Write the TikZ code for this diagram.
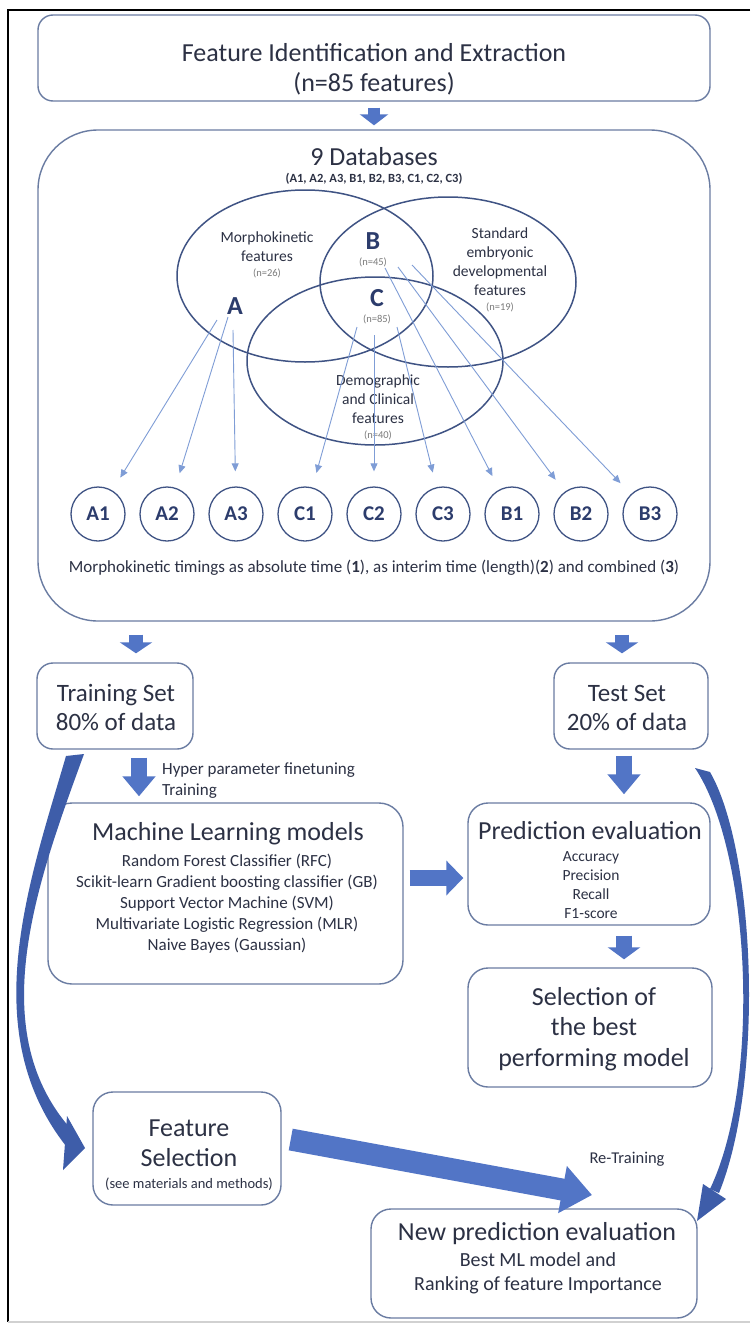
\documentclass[tikz,border=0pt]{standalone}
\usepackage{fontspec}
\setmainfont{Carlito}
\usetikzlibrary{arrows.meta,calc}
\definecolor{boxc}{HTML}{6A7CA2}
\definecolor{venc}{HTML}{3F5384}
\definecolor{arrc}{HTML}{5275C6}
\definecolor{carr}{HTML}{3E5DA9}
\definecolor{thinc}{HTML}{7F9DD6}
\definecolor{txt}{HTML}{2C3144}
\definecolor{gtxt}{HTML}{7A7A7A}
\definecolor{navy}{HTML}{2C3C6C}
\newcommand\fsz[1]{\fontsize{#1}{#1}\selectfont}
\begin{document}
\begin{tikzpicture}[x=1pt,y=-1pt,
  bx/.style={draw=boxc, line width=1.4pt, rounded corners=#1, inner sep=0pt},
  bx/.default=18pt,
  tx/.style={anchor=base, inner sep=0pt, text=txt},
  ng/.style={anchor=base, inner sep=0pt, text=gtxt, font=\fsz{10.5}},
  big/.style={anchor=base, inner sep=0pt, text=navy, font=\bfseries\fsz{26}},
  cir/.style={circle, draw=venc, line width=1.3pt, minimum size=54pt, inner sep=0pt, text=navy, font=\bfseries\fsz{21}},
  ven/.style={draw=venc, line width=1.5pt},
  thn/.style={draw=thinc, line width=0.9pt, -{Triangle[length=8pt,width=7pt]}, shorten >=15pt},
  blk/.style n args={3}{draw=arrc, line width=#1, -{Triangle[length=#3,width=#2]}},
]
\useasboundingbox (0,0) rectangle (750,1330);
\fill[white] (0,0) rectangle (750,1330);
% frame
\draw[black, line width=2pt] (750,10) -- (8,10) -- (8,1322);
\draw[black!18, line width=2pt] (8,1322) -- (750,1322);

% boxes
\node[bx=15pt, minimum width=672pt, minimum height=86pt] (top) at (374,58) {};
\node[bx=60pt, minimum width=672pt, minimum height=491pt] (db) at (374,375.5) {};
\node[bx=16pt, minimum width=156pt, minimum height=86pt] (train) at (115,706) {};
\node[bx=16pt, minimum width=154pt, minimum height=86pt] (test) at (631,706) {};
\node[bx=24pt, minimum width=355pt, minimum height=181pt] (ml) at (225.5,893.5) {};
\node[bx=20pt, minimum width=242pt, minimum height=122pt] (pred) at (589,864) {};
\node[bx=20pt, minimum width=244pt, minimum height=119pt] (sel) at (590,1027.5) {};
\node[bx=20pt, minimum width=188pt, minimum height=113pt] (fs) at (187,1148.5) {};
\node[bx=20pt, minimum width=326pt, minimum height=109pt] (np) at (534,1263.5) {};

% top texts
\node[tx, font=\fsz{26}] (t1) at (374,62) {Feature Identification and Extraction};
\node[tx, font=\fsz{26}] (t2) at (374,91) {(n=85 features)};
\node[tx, font=\fsz{26}] (t3) at (374,165) {9 Databases};
\node[tx, font=\bfseries\fsz{12.5}] (t4) at (374,182) {(A1, A2, A3, B1, B2, B3, C1, C2, C3)};

% venn
\draw[ven] (305,276) ellipse [x radius=128pt, y radius=86pt];
\draw[ven] (448,282) ellipse [x radius=128pt, y radius=85pt];
\draw[ven] (375,361) ellipse [x radius=128pt, y radius=84pt];

\node[tx, font=\fsz{15.5}] (m1) at (267,242) {Morphokinetic};
\node[tx, font=\fsz{15.5}] (m2) at (267,261) {features};
\node[ng] (m3) at (267,276) {(n=26)};
\node[big] (lB) at (373,249) {B};
\node[ng] (nB) at (373,265) {(n=45)};
\node[big] (lC) at (377,306) {C};
\node[ng] (nC) at (377,322) {(n=85)};
\node[big] (lA) at (235,314) {A};
\node[tx, font=\fsz{15.5}] (s1) at (500,238) {Standard};
\node[tx, font=\fsz{15.5}] (s2) at (500,257) {embryonic};
\node[tx, font=\fsz{15.5}] (s3) at (500,276) {developmental};
\node[tx, font=\fsz{15.5}] (s4) at (500,295) {features};
\node[ng] (s5) at (500,310) {(n=19)};
\node[tx, font=\fsz{15.5}] (d1) at (378,385) {Demographic};
\node[tx, font=\fsz{15.5}] (d2) at (378,404) {and Clinical};
\node[tx, font=\fsz{15.5}] (d3) at (378,423) {features};
\node[ng] (d4) at (378,438) {(n=40)};

% circles
\node[cir] (A1) at (98,514) {A1};
\node[cir] (A2) at (167,514) {A2};
\node[cir] (A3) at (236,514) {A3};
\node[cir] (C1) at (305,514) {C1};
\node[cir] (C2) at (374,514) {C2};
\node[cir] (C3) at (443,514) {C3};
\node[cir] (B1) at (512,514) {B1};
\node[cir] (B2) at (581,514) {B2};
\node[cir] (B3) at (650,514) {B3};

% thin connectors
\coordinate (sA1) at (217,320);
\coordinate (sA2) at (228,317);
\coordinate (sA3) at (233,330);
\coordinate (sC1) at (357,327);
\coordinate (sC2) at (374,335);
\coordinate (sC3) at (397,327);
\coordinate (sB1) at (385,268);
\coordinate (sB2) at (398,267);
\coordinate (sB3) at (412,265);
\draw[thn] (sA1) -- (A1);
\draw[thn] (sA2) -- (A2);
\draw[thn] (sA3) -- (A3);
\draw[thn] (sC1) -- (C1);
\draw[thn] (sC2) -- (C2);
\draw[thn] (sC3) -- (C3);
\draw[thn] (sB1) -- (B1);
\draw[thn] (sB2) -- (B2);
\draw[thn] (sB3) -- (B3);

\node[tx, font=\fsz{17}] (mt) at (374,572) {Morphokinetic timings as absolute time (\textbf{1}), as interim time (length)(\textbf{2}) and combined (\textbf{3})};

% block arrows
\draw[blk={12pt}{28pt}{11pt}, shorten <=6pt, shorten >=4pt] (top.south) -- (db.north);
\coordinate (tA) at ($(train.north)+(21,0)$);
\coordinate (tT) at ($(test.north)+(-9,0)$);
\draw[blk={14pt}{32pt}{11pt}, shorten <=13pt, shorten >=9pt] (db.south -| tA) -- (tA);
\draw[blk={14pt}{32pt}{11pt}, shorten <=13pt, shorten >=9pt] (db.south -| tT) -- (tT);
\coordinate (tB) at ($(train.south)+(24,0)$);
\coordinate (sB) at ($(test.south)+(-7,0)$);
\draw[blk={16pt}{32pt}{20pt}, shorten <=8pt, shorten >=6pt] (tB) -- (tB |- ml.north);
\draw[blk={16pt}{32pt}{20pt}, shorten <=6pt, shorten >=8pt] (sB) -- (sB |- pred.north);
\coordinate (mlA) at ($(ml.east)+(0,-15.5)$);
\draw[blk={16pt}{34pt}{17pt}, shorten <=6pt, shorten >=4pt] (mlA) -- (mlA -| pred.west);
\coordinate (pB) at ($(pred.south)+(35,0)$);
\draw[blk={16pt}{32pt}{12pt}, shorten <=10pt, shorten >=8pt] (pB) -- (pB |- sel.north);
\coordinate (rt) at (592,1195);
\draw[blk={22pt}{46pt}{30pt}] ($(fs.east)+(9,-9)$) -- (rt);

% curved arrows
\fill[carr] (66,756) .. controls (30,880) and (-25,1030) .. (66,1146) -- (70,1128) .. controls (-17,1028) and (38,880) .. (84,754) -- cycle;
\fill[carr] (67,1116) -- (85,1148) -- (63,1170) -- cycle;
\fill[carr] (710,772) .. controls (755,850) and (765,1080) .. (719,1193) -- (710,1189) .. controls (762,1080) and (750,850) .. (695,768) -- cycle;
\fill[carr] (703,1184) -- (726,1199) -- (697,1221) -- cycle;

% training / test texts
\node[tx, font=\fsz{25}] (tr1) at (116,701) {Training Set};
\node[tx, font=\fsz{25}] (tr2) at (116,730) {80\% of data};
\node[tx, font=\fsz{25}] (te1) at (627,701) {Test Set};
\node[tx, font=\fsz{25}] (te2) at (627,730) {20\% of data};
\node[tx, font=\fsz{17}, anchor=base west] (hp1) at (162,774.5) {Hyper parameter finetuning};
\node[tx, font=\fsz{17}, anchor=base west] (hp2) at (162,795.5) {Training};

% ML
\node[tx, font=\fsz{26}] (ml0) at (228,840) {Machine Learning models};
\node[tx, font=\fsz{17}] (ml1) at (227,866) {Random Forest Classifier (RFC)};
\node[tx, font=\fsz{17}] (ml2) at (227,887) {Scikit-learn Gradient boosting classifier (GB)};
\node[tx, font=\fsz{17}] (ml3) at (227,908) {Support Vector Machine (SVM)};
\node[tx, font=\fsz{17}] (ml4) at (227,929) {Multivariate Logistic Regression (MLR)};
\node[tx, font=\fsz{17}] (ml5) at (227,950) {Naive Bayes (Gaussian)};

% prediction
\node[tx, font=\fsz{26}] (p0) at (590,839.5) {Prediction evaluation};
\node[tx, font=\fsz{15.5}] (p1) at (591,861) {Accuracy};
\node[tx, font=\fsz{15.5}] (p2) at (591,880) {Precision};
\node[tx, font=\fsz{15.5}] (p3) at (591,899) {Recall};
\node[tx, font=\fsz{15.5}] (p4) at (591,918) {F1-score};

% selection
\node[tx, font=\fsz{26}] (se1) at (594,1005.5) {Selection of};
\node[tx, font=\fsz{26}] (se2) at (594,1035.5) {the best};
\node[tx, font=\fsz{26}] (se3) at (594,1066.5) {performing model};

% feature selection
\node[tx, font=\fsz{26}] (f1) at (189,1136.5) {Feature};
\node[tx, font=\fsz{26}] (f2) at (189,1166.5) {Selection};
\node[tx, font=\fsz{14.5}] (f3) at (189,1188) {(see materials and methods)};

\node[tx, font=\fsz{16.5}] (rtr) at (627,1163) {Re-Training};

% new prediction
\node[tx, font=\fsz{26}] (n1) at (537,1240.5) {New prediction evaluation};
\node[tx, font=\fsz{20}] (n2) at (538,1266) {Best ML model and};
\node[tx, font=\fsz{20}] (n3) at (538,1290) {Ranking of feature Importance};
\end{tikzpicture}
\end{document}
